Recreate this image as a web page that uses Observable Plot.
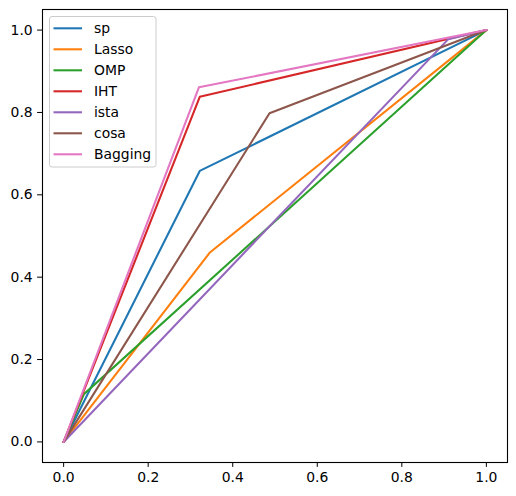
<!DOCTYPE html>
<html>
<head>
<meta charset="utf-8">
<script src="https://cdn.jsdelivr.net/npm/d3@7"></script>
<script src="https://cdn.jsdelivr.net/npm/@observablehq/plot@0.6"></script>
<style>
  html, body { margin: 0; padding: 0; background: #fff; }
  #chart { position: relative; width: 516px; height: 496px; }
</style>
</head>
<body>
<div id="chart"></div>
<script>
const seriesNames = ["sp", "Lasso", "OMP", "IHT", "ista", "cosa", "Bagging"];
const seriesColors = ["#1f77b4", "#ff7f0e", "#2ca02c", "#d62728", "#9467bd", "#8c564b", "#e377c2"];
const fprValues = {
  sp:      [0, 0.322, 1],
  Lasso:   [0, 0.346, 1],
  OMP:     [0, 0.048, 1],
  IHT:     [0, 0.322, 1],
  ista:    [0, 0.910, 1],
  cosa:    [0, 0.487, 1],
  Bagging: [0, 0.320, 1]
};
const tprValues = {
  sp:      [0, 0.658, 1],
  Lasso:   [0, 0.460, 1],
  OMP:     [0, 0.116, 1],
  IHT:     [0, 0.838, 1],
  ista:    [0, 0.978, 1],
  cosa:    [0, 0.798, 1],
  Bagging: [0, 0.861, 1]
};
const tickValues = [0, 0.2, 0.4, 0.6, 0.8, 1.0];

const rows = [];
seriesNames.forEach((name, i) => {
  fprValues[name].forEach((x, j) => rows.push({series: name, order: i, x, y: tprValues[name][j]}));
});

const font = "'DejaVu Sans', sans-serif";
const plot = Plot.plot({
  width: 516,
  height: 496,
  marginLeft: 42,
  marginRight: 9,
  marginTop: 9,
  marginBottom: 34,
  style: {fontFamily: font, fontSize: "13.9px", color: "#000", background: "#fff"},
  x: {domain: [-0.05, 1.05], ticks: tickValues, tickFormat: d => d.toFixed(1), tickSize: 4.9, tickPadding: 4.9, label: null},
  y: {domain: [-0.05, 1.05], ticks: tickValues, tickFormat: d => d.toFixed(1), tickSize: 4.9, tickPadding: 4.9, label: null},
  color: {domain: seriesNames, range: seriesColors},
  marks: [
    ...seriesNames.map(name => Plot.line(rows.filter(r => r.series === name), {
      x: "x", y: "y", stroke: "series", strokeWidth: 2.08, strokeLinejoin: "round"
    })),
    Plot.frame({stroke: "#000", strokeWidth: 1.1})
  ]
});
document.getElementById("chart").appendChild(plot);

// legend (matplotlib style, upper left)
const svg = d3.select(plot);
const lg = svg.append("g").attr("transform", "translate(49.5,16.5)").attr("text-anchor", "start");
lg.append("rect").attr("width", 106.5).attr("height", 150.5).attr("rx", 2.5)
  .attr("fill", "rgba(255,255,255,0.8)").attr("stroke", "#cccccc").attr("stroke-width", 1);
seriesNames.forEach((name, i) => {
  const y = 11.8 + i * 21;
  lg.append("line").attr("x1", 4).attr("x2", 32.5).attr("y1", y).attr("y2", y)
    .attr("stroke", seriesColors[i]).attr("stroke-width", 2.08);
  lg.append("text").attr("x", 44.5).attr("y", y).attr("dy", "0.35em").attr("text-anchor", "start")
    .attr("font-family", font).attr("font-size", "13.9px").attr("fill", "#000").text(name);
});
</script>
</body>
</html>
